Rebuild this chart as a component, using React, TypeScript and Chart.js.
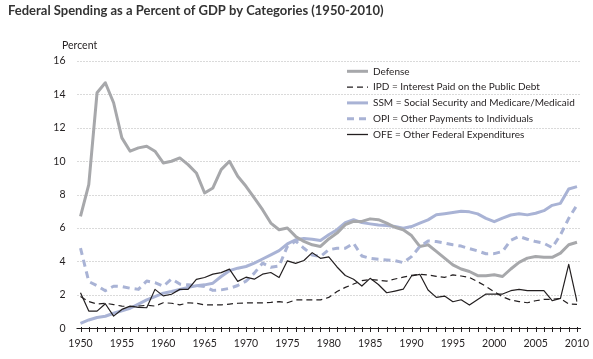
import React, { useEffect, useRef } from 'react';
import { Chart, registerables } from 'chart.js';

Chart.register(...registerables);

const years: number[] = Array.from({ length: 61 }, (_, i) => 1950 + i);

const defense = [
  6.7, 8.6, 14.1, 14.7, 13.5, 11.4, 10.6, 10.8, 10.9, 10.6,
  9.9, 10.0, 10.2, 9.8, 9.3, 8.1, 8.4, 9.5, 10.0, 9.1,
  8.5, 7.8, 7.1, 6.3, 5.9, 6.0, 5.5, 5.2, 5.0, 4.9,
  5.35, 5.7, 6.2, 6.4, 6.4, 6.55, 6.5, 6.3, 6.05, 5.9,
  5.55, 4.9, 5.0, 4.6, 4.2, 3.8, 3.55, 3.4, 3.15, 3.15,
  3.2, 3.1, 3.55, 3.95, 4.2, 4.3, 4.25, 4.25, 4.5, 5.0,
  5.15,
];

const ipd = [
  1.9, 1.6, 1.45, 1.5, 1.42, 1.33, 1.3, 1.33, 1.38, 1.33,
  1.53, 1.5, 1.4, 1.53, 1.5, 1.4, 1.4, 1.4, 1.45, 1.5,
  1.52, 1.52, 1.52, 1.55, 1.6, 1.53, 1.7, 1.7, 1.7, 1.7,
  1.85, 2.2, 2.45, 2.65, 2.85, 2.92, 2.88, 2.82, 2.95, 3.06,
  3.17, 3.24, 3.19, 3.11, 3.05, 3.2, 3.13, 3.04, 2.79, 2.51,
  2.19, 1.89, 1.69, 1.6, 1.53, 1.65, 1.73, 1.73, 1.79, 1.45,
  1.43,
];

const ssm = [
  0.3, 0.5, 0.65, 0.72, 0.9, 1.05, 1.2, 1.45, 1.7, 1.9,
  2.1, 2.2, 2.33, 2.45, 2.55, 2.6, 2.7, 3.1, 3.45, 3.6,
  3.7, 3.9, 4.15, 4.4, 4.65, 5.05, 5.3, 5.38, 5.33, 5.25,
  5.6, 5.9, 6.33, 6.5, 6.33, 6.25, 6.18, 6.15, 6.09, 5.99,
  6.09, 6.29, 6.49, 6.8, 6.86, 6.93, 7.01, 6.97, 6.85, 6.58,
  6.38, 6.6, 6.78, 6.86, 6.79, 6.89, 7.04, 7.36, 7.48, 8.34,
  8.48,
];

const opi = [
  4.8, 2.8, 2.55, 2.25, 2.52, 2.5, 2.4, 2.33, 2.83, 2.73,
  2.52, 2.95, 2.65, 2.6, 2.55, 2.5, 2.27, 2.3, 2.39, 2.56,
  2.82, 3.3, 3.9, 3.65, 3.73, 4.9, 5.22, 4.79, 4.39, 4.3,
  4.7, 4.79, 4.79, 5.09, 4.33, 4.19, 4.13, 4.09, 4.05, 3.93,
  4.29, 4.89, 5.23, 5.19, 5.1, 5.0, 4.92, 4.77, 4.63, 4.46,
  4.47, 4.6, 5.27, 5.5, 5.33, 5.19, 5.09, 4.83, 5.59, 6.58,
  7.38,
];

const ofe = [
  2.13, 1.03, 1.03, 1.47, 0.73, 1.13, 1.33, 1.25, 1.23, 2.33,
  1.94, 2.04, 2.33, 2.33, 2.93, 3.04, 3.24, 3.33, 3.54, 2.81,
  3.06, 2.94, 3.24, 3.34, 3.04, 4.04, 3.89, 4.06, 4.53, 4.19,
  4.27, 3.67, 3.16, 2.94, 2.53, 2.99, 2.62, 2.13, 2.23, 2.34,
  3.13, 3.23, 2.29, 1.85, 1.93, 1.59, 1.71, 1.39, 1.73, 2.05,
  2.05, 2.05, 2.25, 2.33, 2.25, 2.25, 2.25, 1.65, 1.79, 3.83,
  1.59,
];

const yTicks = [0, 2, 4, 6, 8, 10, 12, 14, 16];

const TITLE = 'Federal Spending as a Percent of GDP by Categories (1950-2010)';
const Y_LABEL = 'Percent';

const TEXT = '#231f20';
const GRAY = '#a7a8ab';
const BLUE = '#a9b3d5';
const FONT = "Lato, 'Liberation Sans', sans-serif";

const legendItems = [
  { label: 'Defense', color: GRAY, width: 3, dash: [] as number[] },
  { label: 'IPD = Interest Paid on the Public Debt', color: TEXT, width: 1.3, dash: [6, 4] },
  { label: 'SSM = Social Security and Medicare/Medicaid', color: BLUE, width: 3, dash: [] as number[] },
  { label: 'OPI = Other Payments to Individuals', color: BLUE, width: 3, dash: [7, 5] },
  { label: 'OFE = Other Federal Expenditures', color: TEXT, width: 1.3, dash: [] as number[] },
];

const decorPlugin = {
  id: 'decor',
  beforeDatasetsDraw(chart: any) {
    const { ctx, chartArea: a, scales } = chart;
    const x = scales.x;
    const y = scales.y;
    ctx.save();
    ctx.strokeStyle = '#b5b5b5';
    ctx.lineWidth = 1;
    ctx.setLineDash([1, 2]);
    for (const v of yTicks) {
      if (v === 0) continue;
      const py = Math.round(y.getPixelForValue(v)) + 0.5;
      ctx.beginPath();
      ctx.moveTo(a.left - 3, py);
      ctx.lineTo(a.right + 3, py);
      ctx.stroke();
    }
    ctx.setLineDash([]);
    ctx.strokeStyle = TEXT;
    const py0 = Math.round(y.getPixelForValue(0)) + 0.5;
    ctx.beginPath();
    ctx.moveTo(a.left - 4, py0);
    ctx.lineTo(a.right + 4, py0);
    ctx.stroke();
    for (let i = 0; i < years.length; i++) {
      const px = Math.round(x.getPixelForValue(i)) + 0.5;
      ctx.beginPath();
      ctx.moveTo(px, py0 - 1.5);
      ctx.lineTo(px, py0 + 3.5);
      ctx.stroke();
    }
    ctx.restore();
  },
  afterDraw(chart: any) {
    const { ctx } = chart;
    ctx.save();
    ctx.fillStyle = '#333333';
    ctx.font = `bold 13px ${FONT}`;
    ctx.textBaseline = 'alphabetic';
    ctx.textAlign = 'left';
    ctx.fillText(TITLE, 8, 15);

    ctx.fillStyle = TEXT;
    ctx.font = `10.5px ${FONT}`;
    ctx.fillText(Y_LABEL, 62, 49);

    ctx.font = `10px ${FONT}`;
    ctx.textBaseline = 'middle';
    legendItems.forEach((it, i) => {
      const cy = 71.3 + i * 15.8;
      ctx.save();
      ctx.strokeStyle = it.color;
      ctx.lineWidth = it.width;
      ctx.setLineDash(it.dash);
      ctx.beginPath();
      ctx.moveTo(347, cy);
      ctx.lineTo(368, cy);
      ctx.stroke();
      ctx.restore();
      ctx.fillStyle = TEXT;
      ctx.fillText(it.label, 373, cy);
    });
    ctx.restore();
  },
};

export default function App() {
  const ref = useRef<HTMLCanvasElement | null>(null);

  useEffect(() => {
    if (!ref.current) return;
    const common = { pointRadius: 0, pointHoverRadius: 0, tension: 0, fill: false, borderJoinStyle: 'round' as const };
    const chart = new Chart(ref.current, {
      type: 'line',
      data: {
        labels: years.map(String),
        datasets: [
          { ...common, label: 'OFE', data: ofe, borderColor: TEXT, borderWidth: 1.2 },
          { ...common, label: 'IPD', data: ipd, borderColor: TEXT, borderWidth: 1.2, borderDash: [6, 4] },
          { ...common, label: 'OPI', data: opi, borderColor: BLUE, borderWidth: 3, borderDash: [7, 5] },
          { ...common, label: 'Defense', data: defense, borderColor: GRAY, borderWidth: 3 },
          { ...common, label: 'SSM', data: ssm, borderColor: BLUE, borderWidth: 3 },
        ],
      },
      options: {
        responsive: false,
        devicePixelRatio: 1,
        animation: false,
        layout: { padding: { top: 61, right: 16, left: 0, bottom: 0 } },
        plugins: { legend: { display: false }, title: { display: false }, tooltip: { enabled: false } },
        scales: {
          x: {
            type: 'category',
            offset: false,
            grid: { display: false },
            border: { display: false },
            ticks: {
              autoSkip: false,
              maxRotation: 0,
              minRotation: 0,
              padding: 1,
              color: TEXT,
              font: { family: FONT, size: 10.5 },
              callback: (_v: any, idx: number) => (years[idx] % 5 === 0 ? String(years[idx]) : ''),
            },
            afterFit: (s: any) => { s.height = 30.7; },
          },
          y: {
            min: 0,
            max: 16,
            grid: { display: false },
            border: { display: false },
            ticks: {
              stepSize: 2,
              padding: 7,
              color: TEXT,
              font: { family: FONT, size: 10.5 },
            },
            afterFit: (s: any) => { s.width = 80.5; },
          },
        },
      },
      plugins: [decorPlugin],
    });
    return () => chart.destroy();
  }, []);

  return (
    <div style={{ position: 'absolute', left: 0, top: 0, width: 593, height: 359, background: '#fff' }}>
      <canvas ref={ref} width={593} height={359} style={{ width: 593, height: 359, display: 'block' }} />
    </div>
  );
}
